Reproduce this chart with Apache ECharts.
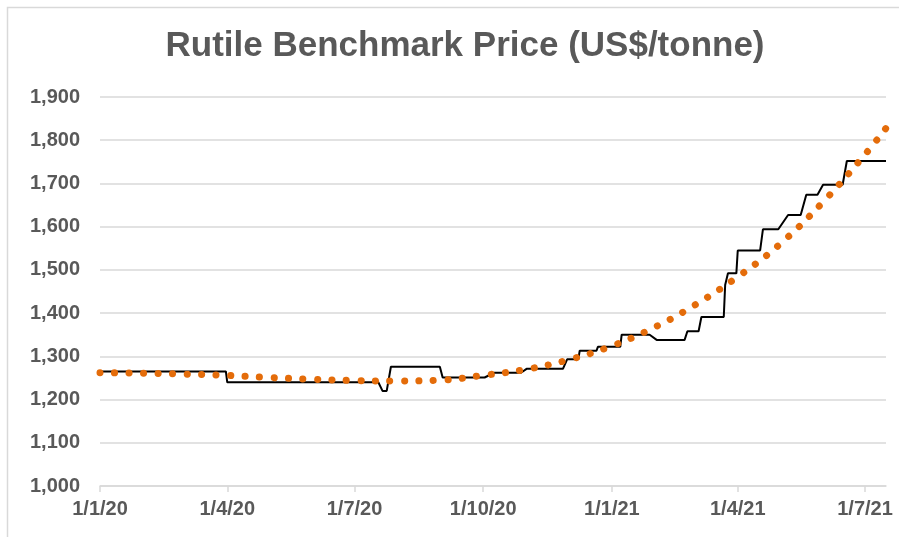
<!DOCTYPE html>
<html>
<head>
<meta charset="utf-8">
<style>
  html, body { margin: 0; padding: 0; background: #ffffff; }
  #chart { width: 899px; height: 537px; }
</style>
<script src="https://cdn.jsdelivr.net/npm/echarts@6/dist/echarts.min.js"></script>
</head>
<body>
<div id="chart"></div>
<script>
// ---- Data ----
const titleText = 'Rutile Benchmark Price (US$/tonne)';

// x-axis tick dates (quarterly)
const tickDates = ['2020-01-01', '2020-04-01', '2020-07-01', '2020-10-01', '2021-01-01', '2021-04-01', '2021-07-01'];
const axisStart = '2020-01-01';
const axisEnd = '2021-07-16';

// y-axis
const yMin = 1000;
const yMax = 1900;
const yStep = 100;

// Benchmark price (black line): dates and values
const priceDates = [
  '2020-01-01', '2020-03-31', '2020-04-01', '2020-07-18', '2020-07-21', '2020-07-24', '2020-07-27',
  '2020-08-31', '2020-09-02', '2020-10-02', '2020-10-09', '2020-10-28', '2020-11-01',
  '2020-11-27', '2020-11-30', '2020-12-08', '2020-12-09', '2020-12-21', '2020-12-22',
  '2021-01-07', '2021-01-08', '2021-01-28', '2021-02-02', '2021-02-22', '2021-02-24',
  '2021-03-04', '2021-03-06', '2021-03-22', '2021-03-23', '2021-03-25', '2021-03-31',
  '2021-04-01', '2021-04-17', '2021-04-19', '2021-04-30', '2021-05-07', '2021-05-16',
  '2021-05-20', '2021-05-28', '2021-06-01', '2021-06-15', '2021-06-18', '2021-07-16'
];
const priceValues = [
  1265, 1265, 1240, 1240, 1220, 1220, 1276,
  1276, 1251, 1251, 1262, 1262, 1271,
  1271, 1293, 1293, 1313, 1313, 1322,
  1322, 1350, 1350, 1338, 1338, 1358,
  1358, 1391, 1391, 1465, 1492, 1492,
  1545, 1545, 1594, 1594, 1627, 1627,
  1674, 1674, 1697, 1697, 1752, 1752
];

// Trend (orange dotted line): dates and values
const trendDates = [
  '2020-01-01', '2020-02-01', '2020-03-01', '2020-04-01', '2020-05-01', '2020-06-01',
  '2020-07-01', '2020-08-01', '2020-09-01', '2020-10-01', '2020-11-01', '2020-12-01',
  '2021-01-01', '2021-02-01', '2021-03-01', '2021-04-01', '2021-05-01', '2021-06-01',
  '2021-07-01', '2021-07-16'
];
const trendValues = [
  1262, 1261, 1259, 1256, 1251, 1247,
  1244, 1243, 1245, 1256, 1270, 1292,
  1324, 1368, 1418, 1484, 1559, 1657,
  1767, 1828
];

// ---- helpers ----
function toTs(s) {
  const p = s.split('-').map(Number);
  return Date.UTC(p[0], p[1] - 1, p[2]);
}
function fmtDate(v) {
  const d = new Date(v);
  return d.getUTCDate() + '/' + (d.getUTCMonth() + 1) + '/' + String(d.getUTCFullYear()).slice(2);
}
const tickTs = tickDates.map(toTs);
const priceData = priceDates.map((d, i) => [toTs(d), priceValues[i]]);
const trendData = trendDates.map((d, i) => [toTs(d), trendValues[i]]);

const chart = echarts.init(document.getElementById('chart'), null, { renderer: 'canvas' });
const labelColor = '#595959';
const gridColor = '#d9d9d9';
const fontFam = '"Liberation Sans", Arial, sans-serif';

chart.setOption({
  animation: false,
  backgroundColor: '#ffffff',
  grid: { left: 100, right: 13, top: 97, bottom: 51, containLabel: false },
  graphic: [
    {
      type: 'rect',
      shape: { x: 7.5, y: 7.5, width: 1000, height: 1000 },
      style: { fill: 'none', stroke: gridColor, lineWidth: 1.5 },
      silent: true
    },
    {
      type: 'text',
      x: 465, y: 46,
      style: {
        text: titleText,
        fill: labelColor,
        font: 'bold 35px ' + fontFam,
        textAlign: 'center',
        textVerticalAlign: 'middle'
      },
      silent: true
    }
  ],
  xAxis: {
    type: 'value',
    min: toTs(axisStart),
    max: toTs(axisEnd),
    axisLine: { show: true, lineStyle: { color: gridColor, width: 1.5 } },
    axisTick: { show: true, length: 6, customValues: tickTs, lineStyle: { color: gridColor, width: 1.5 } },
    splitLine: { show: false },
    axisLabel: {
      customValues: tickTs,
      formatter: fmtDate,
      color: labelColor,
      fontSize: 20,
      fontWeight: 'bold',
      fontFamily: fontFam,
      margin: 13,
      hideOverlap: false
    }
  },
  yAxis: {
    type: 'value',
    min: yMin,
    max: yMax,
    interval: yStep,
    axisLine: { show: false },
    axisTick: { show: false },
    splitLine: { show: true, lineStyle: { color: gridColor, width: 1.5 } },
    axisLabel: {
      formatter: v => v.toLocaleString('en-US'),
      color: labelColor,
      fontSize: 20,
      fontWeight: 'bold',
      fontFamily: fontFam,
      margin: 20
    }
  },
  series: [
    {
      name: 'Price',
      type: 'line',
      data: priceData,
      showSymbol: false,
      lineStyle: { color: '#000000', width: 2 },
      z: 2
    },
    {
      name: 'Trend',
      type: 'line',
      data: trendData,
      smooth: 0.4,
      showSymbol: false,
      lineStyle: { color: '#E46C0A', width: 7, type: [0.1, 14.4], cap: 'round' },
      z: 3
    }
  ]
});
</script>
</body>
</html>
